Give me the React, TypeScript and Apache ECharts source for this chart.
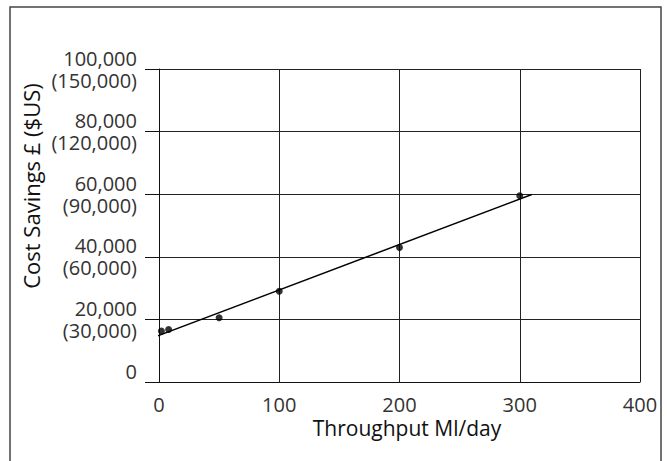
import React, { useEffect, useRef } from "react";
import * as echarts from "echarts";

const throughput = [2, 8, 50, 100, 200, 300];
const savings = [16300, 16800, 20500, 29000, 43000, 59500];
const trendX = [-2, 310];
const trendY = [14600, 59900];
const yTickValues = [0, 20000, 40000, 60000, 80000, 100000];
const yTickLabels = [
  "0\n ",
  "20,000\n(30,000)",
  "40,000\n(60,000)",
  "60,000\n(90,000)",
  "80,000\n(120,000)",
  "100,000\n(150,000)",
];
const xTitle = "Throughput Ml/day";
const yTitle = "Cost Savings £ ($US)";

const FONT = "'Open Sans', sans-serif";

export default function App() {
  const ref = useRef<HTMLDivElement>(null);
  useEffect(() => {
    document.body.style.margin = "0";
    const chart = echarts.init(ref.current!, null, { renderer: "svg" });
    chart.setOption({
      animation: false,
      backgroundColor: "#fff",
      grid: { left: 159, top: 69, right: 27, bottom: 79, containLabel: false },
      xAxis: {
        type: "value",
        min: 0,
        max: 400,
        interval: 100,
        axisLine: { show: true, lineStyle: { color: "#111", width: 1 } },
        axisTick: { show: false },
        axisLabel: { fontSize: 20, color: "#333", fontFamily: FONT, margin: 12 },
        splitLine: { show: true, lineStyle: { color: "#222", width: 1 } },
      },
      yAxis: {
        type: "value",
        min: 0,
        max: 100000,
        interval: 20000,
        axisLine: { show: true, lineStyle: { color: "#111", width: 1 } },
        axisTick: { show: true, length: 14, lineStyle: { color: "#111", width: 1 } },
        axisLabel: {
          fontSize: 20,
          lineHeight: 22,
          color: "#333",
          fontFamily: FONT,
          margin: 22,
          align: "right",
          formatter: (v: number) => {
            const i = yTickValues.indexOf(v);
            return i >= 0 ? yTickLabels[i] : "";
          },
        },
        splitLine: { show: true, lineStyle: { color: "#222", width: 1 } },
      },
      graphic: [
        {
          type: "rect",
          shape: { x: 10, y: 7, width: 651, height: 480 },
          style: { fill: "none", stroke: "#444", lineWidth: 1.5 },
          silent: true,
        },
        {
          type: "text",
          x: 407,
          y: 428,
          style: {
            text: xTitle,
            fontSize: 21,
            fontFamily: FONT,
            fill: "#111",
            align: "center",
            verticalAlign: "middle",
          },
        },
        {
          type: "text",
          x: 31,
          y: 186,
          rotation: Math.PI / 2,
          style: {
            text: yTitle,
            fontSize: 22,
            fontFamily: FONT,
            fill: "#111",
            align: "center",
            verticalAlign: "middle",
          },
        },
      ],
      series: [
        {
          type: "line",
          data: trendX.map((x, i) => [x, trendY[i]]),
          showSymbol: false,
          clip: false,
          lineStyle: { color: "#000", width: 1.5 },
          silent: true,
        },
        {
          type: "scatter",
          data: throughput.map((x, i) => [x, savings[i]]),
          symbolSize: 7,
          itemStyle: { color: "#000" },
          silent: true,
        },
      ],
    });
    return () => chart.dispose();
  }, []);
  return <div ref={ref} style={{ width: 667, height: 461 }} />;
}
